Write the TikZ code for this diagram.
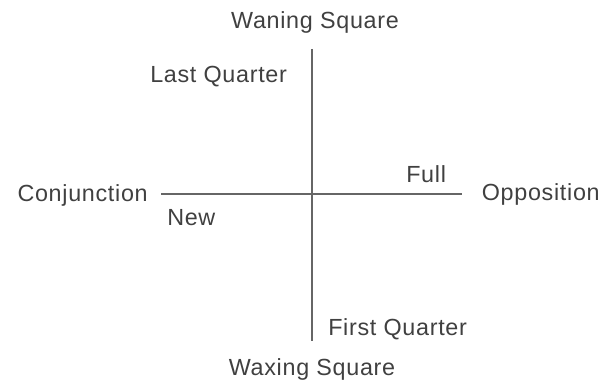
\documentclass[tikz,border=0pt]{standalone}
\usepackage{fontspec}
\setmainfont{Liberation Sans}
\newfontfamily\phasefont[LetterSpace=3]{Liberation Sans}
\tikzset{
  phase/.style={font=\phasefont\fontsize{17.5}{20}\selectfont, text=black!75, inner sep=0pt},
  axis/.style={black!60, line width=1.2pt}
}

\begin{document}
\begin{tikzpicture}[x=0.75pt,y=-0.75pt]
\useasboundingbox (0,0) rectangle (603,385);
\coordinate (west) at (161,194);
\coordinate (east) at (462,194);
\coordinate (top) at (312,49);
\coordinate (bot) at (312,341);
\draw[axis] (west) -- (east);
\draw[axis] (top) -- (bot);
\node[phase, anchor=base] (waning) at (315,29) {Waning Square};
\node[phase, anchor=base west] (lastq) at (150,83) {Last Quarter};
\node[phase, anchor=base east] (conj) at (148,201) {Conjunction};
\node[phase, anchor=base west] (new) at (167,225) {New};
\node[phase, anchor=base west] (full) at (406,182) {Full};
\node[phase, anchor=base east] (opp) at (600,200) {Opposition};
\node[phase, anchor=base west] (firstq) at (328,335) {First Quarter};
\node[phase, anchor=base] (waxing) at (312,375) {Waxing Square};
\end{tikzpicture}
\end{document}
